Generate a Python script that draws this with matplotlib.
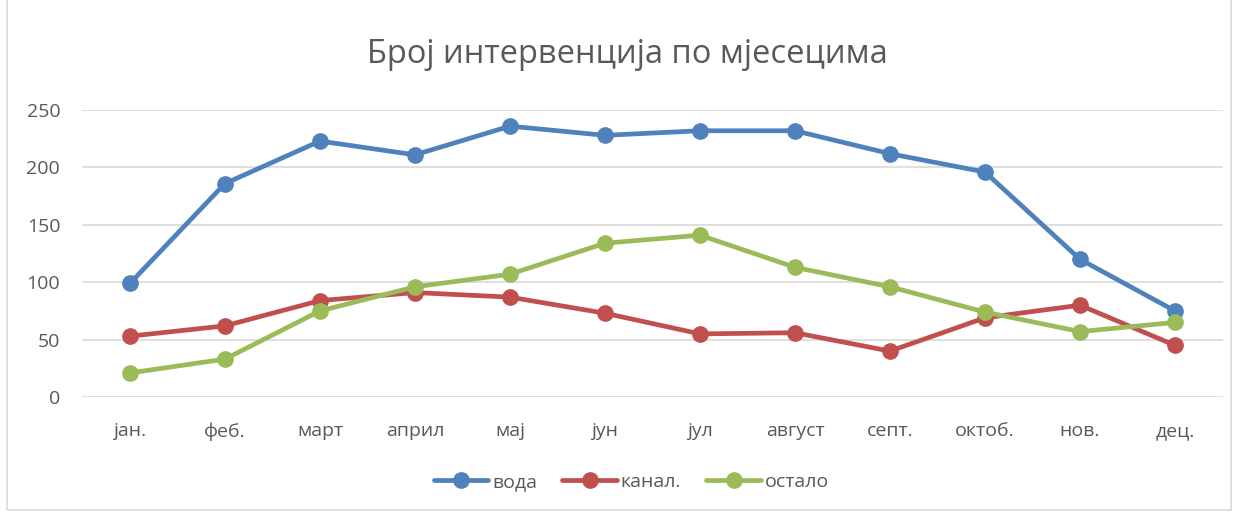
import matplotlib

matplotlib.use("Agg")
import matplotlib.pyplot as plt
from matplotlib.patches import Rectangle

plt.rcParams["font.family"] = ["Open Sans", "DejaVu Sans"]

MJESECI = ["јан.", "феб.", "март", "април", "мај", "јун",
           "јул", "август", "септ.", "октоб.", "нов.", "дец."]
VODA = [99, 186, 223, 211, 236, 228, 232, 232, 212, 196, 120, 75]
KANAL = [53, 62, 84, 91, 87, 73, 55, 56, 40, 69, 80, 45]
OSTALO = [21, 33, 75, 96, 107, 134, 141, 113, 96, 74, 57, 65]
Y_TICKS = [0, 50, 100, 150, 200, 250]

SIVA = "#595959"

fig = plt.figure(figsize=(12.38, 5.12), dpi=100)
fig.patches.append(Rectangle((0.006, 0.004), 0.988, 1.2, transform=fig.transFigure,
                             fill=False, edgecolor="#d9d9d9", linewidth=1.2))
ax = fig.add_axes([0.0666, 0.2246, 0.9209, 0.5604])

x = list(range(len(MJESECI)))
serije = [
    (VODA, "вода", "#4f81bd"),
    (KANAL, "канал.", "#c0504d"),
    (OSTALO, "остало", "#9bbb59"),
]
for vrijednosti, naziv, boja in serije:
    ax.plot(x, vrijednosti, color=boja, linewidth=3.4, marker="o", markersize=11,
            label=naziv, solid_capstyle="round", zorder=3)

ax.set_xlim(-0.5, len(MJESECI) - 0.5)
ax.set_ylim(0, 250)
ax.set_yticks(Y_TICKS)
ax.set_xticks(x)
ax.set_xticklabels(MJESECI)
ax.tick_params(axis="both", length=0, labelsize=14, colors=SIVA)
ax.tick_params(axis="y", pad=16)
ax.tick_params(axis="x", pad=18)
ax.grid(axis="y", color="#d9d9d9", linewidth=1.2)
ax.set_axisbelow(True)
for spine in ax.spines.values():
    spine.set_visible(False)

fig.text(0.507, 0.893, "Број интервенција по мјесецима", ha="center", va="center",
         fontsize=23.5, color=SIVA)

fig.legend(loc="center", bbox_to_anchor=(0.51, 0.058), ncol=3, frameon=False,
           fontsize=14, labelcolor=SIVA, handlelength=2.8, handletextpad=0.2,
           columnspacing=1.3)

fig.savefig("out.png", dpi=100)
